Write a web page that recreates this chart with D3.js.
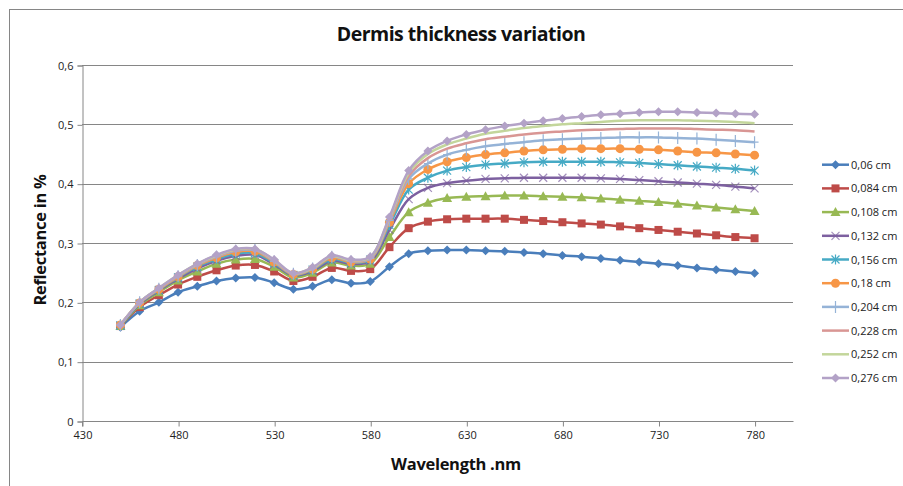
<!DOCTYPE html>
<html><head><meta charset="utf-8">
<script src="https://cdn.jsdelivr.net/npm/d3@7"></script>
<style>body{margin:0;background:#fff}svg{display:block}</style>
</head><body><svg id="c" width="903" height="486"></svg>
<script>
const wavelengths = [450,460,470,480,490,500,510,520,530,540,550,560,570,580,590,600,610,620,630,640,650,660,670,680,690,700,710,720,730,740,750,760,770,780];
const seriesNames = ["0,06 cm","0,084 cm","0,108 cm","0,132 cm","0,156 cm","0,18 cm","0,204 cm","0,228 cm","0,252 cm","0,276 cm"];
const s006 = [0.158,0.185,0.2,0.217,0.227,0.236,0.241,0.242,0.233,0.222,0.227,0.238,0.232,0.235,0.26,0.282,0.287,0.288,0.288,0.287,0.286,0.284,0.282,0.279,0.277,0.274,0.271,0.268,0.265,0.262,0.258,0.255,0.252,0.249];
const s0084 = [0.16,0.192,0.212,0.23,0.243,0.254,0.262,0.263,0.252,0.236,0.243,0.258,0.253,0.256,0.293,0.325,0.336,0.34,0.341,0.341,0.341,0.339,0.337,0.335,0.333,0.331,0.328,0.325,0.322,0.319,0.316,0.313,0.31,0.308];
const s0108 = [0.16,0.195,0.217,0.237,0.252,0.265,0.272,0.273,0.26,0.242,0.25,0.267,0.262,0.265,0.31,0.352,0.368,0.376,0.378,0.379,0.38,0.38,0.379,0.378,0.377,0.375,0.373,0.371,0.369,0.366,0.363,0.36,0.357,0.354];
const s0132 = [0.161,0.197,0.22,0.24,0.257,0.27,0.278,0.28,0.264,0.245,0.253,0.27,0.265,0.269,0.322,0.374,0.393,0.401,0.405,0.408,0.409,0.41,0.41,0.41,0.41,0.409,0.408,0.406,0.404,0.402,0.4,0.398,0.395,0.392];
const s0156 = [0.161,0.198,0.221,0.242,0.26,0.273,0.282,0.283,0.266,0.246,0.255,0.273,0.267,0.272,0.33,0.39,0.41,0.422,0.428,0.432,0.434,0.436,0.437,0.437,0.437,0.437,0.436,0.435,0.433,0.431,0.429,0.427,0.425,0.422];
const s018 = [0.162,0.199,0.222,0.243,0.262,0.275,0.285,0.286,0.268,0.247,0.256,0.275,0.268,0.273,0.335,0.4,0.424,0.437,0.444,0.449,0.452,0.455,0.457,0.458,0.459,0.459,0.459,0.458,0.457,0.455,0.453,0.452,0.45,0.448];
const s0204 = [0.162,0.2,0.223,0.244,0.263,0.277,0.287,0.288,0.269,0.248,0.257,0.277,0.269,0.274,0.338,0.408,0.434,0.449,0.457,0.463,0.467,0.47,0.473,0.475,0.476,0.477,0.478,0.478,0.478,0.477,0.476,0.474,0.472,0.47];
const s0228 = [0.162,0.2,0.223,0.245,0.264,0.278,0.288,0.289,0.27,0.248,0.258,0.278,0.27,0.275,0.34,0.413,0.443,0.459,0.468,0.475,0.479,0.483,0.486,0.488,0.49,0.491,0.492,0.493,0.493,0.493,0.492,0.491,0.49,0.488];
const s0252 = [0.162,0.2,0.224,0.246,0.265,0.279,0.289,0.29,0.271,0.249,0.258,0.278,0.271,0.276,0.342,0.418,0.45,0.466,0.476,0.484,0.489,0.494,0.497,0.5,0.502,0.504,0.506,0.507,0.507,0.507,0.506,0.505,0.504,0.502];
const s0276 = [0.162,0.2,0.224,0.246,0.265,0.28,0.29,0.29,0.272,0.249,0.259,0.279,0.272,0.277,0.344,0.422,0.455,0.472,0.483,0.491,0.497,0.502,0.506,0.51,0.513,0.516,0.518,0.52,0.521,0.521,0.52,0.519,0.518,0.517];
const xTicks = [430,480,530,580,630,680,730,780];
const yTicks = [0,0.1,0.2,0.3,0.4,0.5,0.6];

const seriesValues = [s006,s0084,s0108,s0132,s0156,s018,s0204,s0228,s0252,s0276];
const colors = ["#4a7ebb","#be4b48","#98b954","#7d60a0","#46aac5","#f79646","#95b3d7","#d99694","#c3d69b","#b3a2c7"];
const markers = ["diamond","square","triangle","x","star","circle","plus","none","none","diamond"];

const svg = d3.select("#c");
const font = "Open Sans, Noto Sans, sans-serif";
svg.append("rect").attr("x",9.5).attr("y",9.5).attr("width",1000).attr("height",1000).attr("fill","#fff").attr("stroke","#868686");

const x = d3.scaleLinear().domain([430,800]).range([82,793]);
const y = d3.scaleLinear().domain([0,0.6]).range([421,65]);

svg.append("g").selectAll("line").data(yTicks.filter(d=>d>0)).join("line")
  .attr("x1",82).attr("x2",793).attr("y1",d=>Math.round(y(d))+0.5).attr("y2",d=>Math.round(y(d))+0.5)
  .attr("stroke","#868686").attr("stroke-width",1);

const yAxis = svg.append("g").attr("transform","translate(82.5,0.5)")
  .call(d3.axisLeft(y).tickValues(yTicks).tickSize(5).tickPadding(4).tickFormat(d=>d===0?"0":String(d).replace(".",",")));
const xAxis = svg.append("g").attr("transform",`translate(0.5,${Math.round(y(0))+0.5})`)
  .call(d3.axisBottom(x).tickValues(xTicks).tickSize(5).tickPadding(5).tickFormat(d=>d));
[yAxis,xAxis].forEach(a=>{
  a.select(".domain").attr("stroke","#868686");
  a.selectAll(".tick line").attr("stroke","#868686");
  a.selectAll("text").attr("font-family",font).attr("font-size",11).attr("fill","#222");
});
xAxis.select(".domain").attr("d",`M${x(430)},5V0H${x(800)}`);

const line = d3.line().x((d,i)=>x(wavelengths[i])).y(d=>y(d)).curve(d3.curveCatmullRom.alpha(0.5));

function drawMarker(g, type, cx, cy, color){
  const s = 4;
  if(type==="diamond"){
    g.append("path").attr("d",`M${cx},${cy-s-0.5}L${cx+s+0.5},${cy}L${cx},${cy+s+0.5}L${cx-s-0.5},${cy}Z`).attr("fill",color);
  } else if(type==="square"){
    g.append("rect").attr("x",cx-4).attr("y",cy-4).attr("width",8).attr("height",8).attr("fill",color);
  } else if(type==="triangle"){
    g.append("path").attr("d",`M${cx},${cy-5}L${cx+5},${cy+4}L${cx-5},${cy+4}Z`).attr("fill",color);
  } else if(type==="x"){
    g.append("path").attr("d",`M${cx-4},${cy-4}L${cx+4},${cy+4}M${cx-4},${cy+4}L${cx+4},${cy-4}`).attr("stroke",color).attr("stroke-width",1.2).attr("opacity",0.7);
  } else if(type==="star"){
    g.append("path").attr("d",`M${cx-4},${cy-4}L${cx+4},${cy+4}M${cx-4},${cy+4}L${cx+4},${cy-4}M${cx},${cy-5}L${cx},${cy+5}`).attr("stroke",color).attr("stroke-width",1.2);
  } else if(type==="circle"){
    g.append("circle").attr("cx",cx).attr("cy",cy).attr("r",4.5).attr("fill",color);
  } else if(type==="plus"){
    g.append("path").attr("d",`M${cx},${cy-6}L${cx},${cy+6}M${cx-4},${cy}L${cx+4},${cy}`).attr("stroke",color).attr("stroke-width",1.2);
  }
}

const plot = svg.append("g");
seriesValues.forEach((vals,k)=>{
  const g = plot.append("g");
  g.append("path").attr("d",line(vals)).attr("fill","none").attr("stroke",colors[k]).attr("stroke-width",2.5);
  vals.forEach((v,i)=>drawMarker(g,markers[k],x(wavelengths[i]),y(v),colors[k]));
});

const lg = svg.append("g");
seriesNames.forEach((n,k)=>{
  const ly = 164.7 + k*23.7;
  const g = lg.append("g");
  g.append("line").attr("x1",822).attr("x2",849).attr("y1",ly).attr("y2",ly).attr("stroke",colors[k]).attr("stroke-width",2.5);
  drawMarker(g,markers[k],835.5,ly,colors[k]);
  g.append("text").attr("x",851).attr("y",ly+4).attr("font-family",font).attr("font-size",11).attr("fill","#222").text(n);
});

svg.append("text").attr("x",461).attr("y",41).attr("text-anchor","middle").attr("font-family",font).attr("font-weight","bold").attr("font-size",19.5).attr("letter-spacing",-0.5).attr("fill","#111").text("Dermis thickness variation");
svg.append("text").attr("x",456).attr("y",470).attr("text-anchor","middle").attr("font-family",font).attr("font-weight","bold").attr("font-size",16.5).attr("letter-spacing",-0.3).attr("fill","#111").text("Wavelength .nm");
svg.append("text").attr("transform","translate(46,240) rotate(-90)").attr("text-anchor","middle").attr("font-family",font).attr("font-weight","bold").attr("font-size",16.5).attr("letter-spacing",-0.3).attr("fill","#111").text("Reflectance in %");
</script></body></html>
